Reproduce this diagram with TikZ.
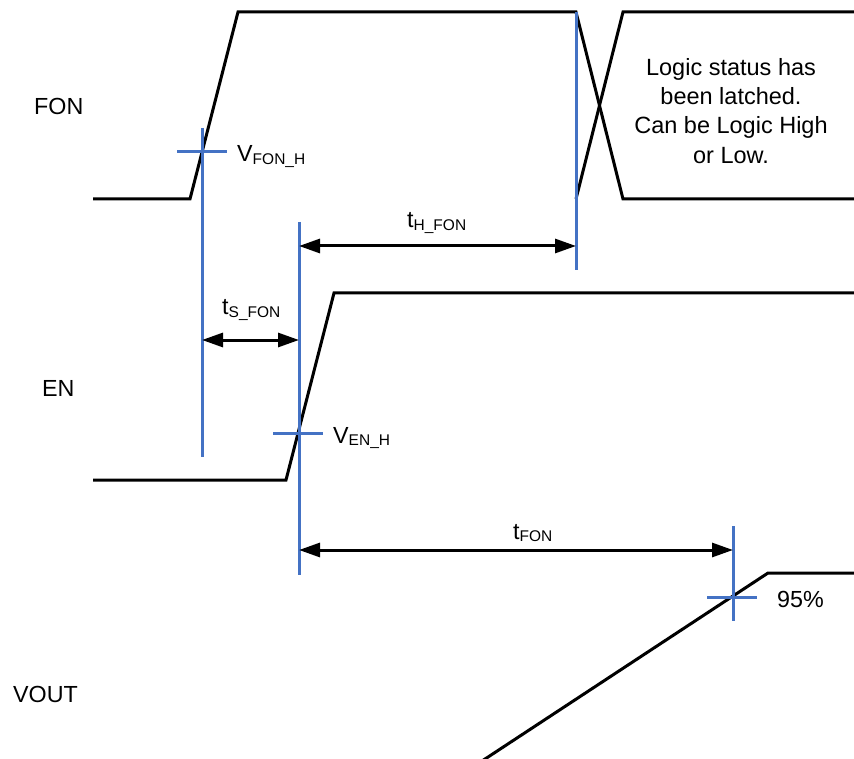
\documentclass[tikz,border=0pt]{standalone}
\usepackage{fontspec}
\setmainfont{Liberation Sans}
\usetikzlibrary{arrows.meta}
\definecolor{tiblue}{HTML}{4472C4}
\newcommand{\sbs}[1]{\raisebox{-2.5pt}{\fontsize{15.5}{16}\selectfont #1}}
\begin{document}
\begin{tikzpicture}[x=1pt,y=-1pt,
 wave/.style={line width=3pt, black, line join=miter},
 marker/.style={line width=3pt, tiblue},
 dimline/.style={line width=3pt, black, {Triangle[length=21pt,width=14pt]}-{Triangle[length=21pt,width=14pt]}},
 lbl/.style={inner sep=0pt, anchor=base west, font=\fontsize{23.3}{29}\selectfont},
]
\useasboundingbox (0,0) rectangle (854,759);

% FON waveform
\coordinate (f0) at (93,199);
\coordinate (f1) at (190,199);
\coordinate (f2) at (238,12);
\coordinate (f3) at (576,12);
\coordinate (f4) at (623,199);
\coordinate (f5) at (854,199);
\coordinate (g1) at (576,199);
\coordinate (g2) at (623,12);
\coordinate (g3) at (854,12);
\draw[wave] (f0) -- (f1) -- (f2) -- (f3) -- (f4) -- (f5);
\draw[wave] (g1) -- (g2) -- (g3);

% EN waveform
\coordinate (e0) at (93,480);
\coordinate (e1) at (286,480);
\coordinate (e2) at (334,293);
\coordinate (e3) at (854,293);
\draw[wave] (e0) -- (e1) -- (e2) -- (e3);

% VOUT waveform
\coordinate (v0) at (482,761);
\coordinate (v1) at (768,573);
\coordinate (v2) at (854,573);
\draw[wave] (v0) -- (v1) -- (v2);

% blue markers
\coordinate (m1t) at (202,128); \coordinate (m1b) at (202,457);
\coordinate (m1l) at (177,152); \coordinate (m1r) at (227,152);
\coordinate (m2t) at (299,222); \coordinate (m2b) at (299,575);
\coordinate (m2l) at (273,433); \coordinate (m2r) at (323,433);
\coordinate (m3t) at (576,12);  \coordinate (m3b) at (576,270);
\coordinate (m4t) at (733,526); \coordinate (m4b) at (733,621);
\coordinate (m4l) at (707,597); \coordinate (m4r) at (757,597);
\draw[marker] (m1t) -- (m1b);
\draw[marker] (m1l) -- (m1r);
\draw[marker] (m2t) -- (m2b);
\draw[marker] (m2l) -- (m2r);
\draw[marker] (m3t) -- (m3b);
\draw[marker] (m4t) -- (m4b);
\draw[marker] (m4l) -- (m4r);

% dimension arrows
\coordinate (s1) at (202,340); \coordinate (s2) at (299,340);
\coordinate (h1) at (299,246); \coordinate (h2) at (576,246);
\coordinate (n1) at (299,550); \coordinate (n2) at (733,550);
\draw[dimline] (s1) -- (s2);
\draw[dimline] (h1) -- (h2);
\draw[dimline] (n1) -- (n2);

% labels
\node[lbl] (lfon) at (34,115) {FON};
\node[lbl] (len) at (42,396) {EN};
\node[lbl] (lvout) at (13,702) {VOUT};
\node[lbl] (lvfon) at (237,162) {V\sbs{FON\_H}};
\node[lbl] (lven) at (333,443) {V\sbs{EN\_H}};
\node[lbl] (lth) at (407,228) {t\sbs{H\_FON}};
\node[lbl] (lts) at (222,315) {t\sbs{S\_FON}};
\node[lbl] (ltf) at (513,539) {t\sbs{FON}};
\node[lbl] (l95) at (777,607) {95\%};
\node[inner sep=0pt, anchor=north, align=center, font=\fontsize{23.5}{29.3}\selectfont] (llogic) at (731,58)
  {Logic status has\\been latched.\\Can be Logic High\\or Low.};
\end{tikzpicture}
\end{document}
